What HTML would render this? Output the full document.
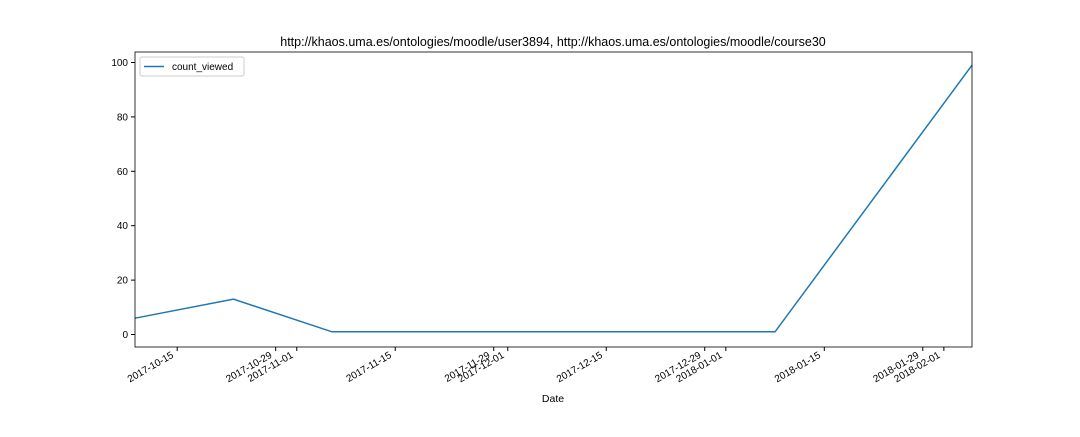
<!DOCTYPE html>
<html><head><meta charset="utf-8"><style>
body{margin:0;background:#fff;}
svg text{font-family:"Liberation Sans","DejaVu Sans",sans-serif;}
</style></head><body>
<svg id="chart" width="1080" height="432" xmlns="http://www.w3.org/2000/svg">
<rect width="1080" height="432" fill="#fff"/>
<text x="553" y="46" font-size="12.5" text-anchor="middle" fill="#000">http://khaos.uma.es/ontologies/moodle/user3894, http://khaos.uma.es/ontologies/moodle/course30</text>
<g id="plot"></g>
<text x="553" y="402" font-size="10.5" text-anchor="middle">Date</text>
<g>
<rect x="140" y="57" width="104" height="19" rx="2" fill="#fff" stroke="#ccc"/>
<line x1="144" y1="66.5" x2="164" y2="66.5" stroke="#1f77b4" stroke-width="1.5"/>
<text x="172" y="70" font-size="10">count_viewed</text>
</g>
</svg>
<script>
const dates=["2017-10-09","2017-10-23","2017-11-06","2018-01-08","2018-02-05"];
const values=[6,13,1,1,99];
const xTicks=["2017-10-15","2017-10-29","2017-11-01","2017-11-15","2017-11-29","2017-12-01","2017-12-15","2017-12-29","2018-01-01","2018-01-15","2018-01-29","2018-02-01"];
const yTicks=[0,20,40,60,80,100];
const L=135,R=972,T=52,B=347;
const d0=Date.parse(dates[0]),d1=Date.parse(dates[dates.length-1]);
function xs(d){return L+(Date.parse(d)-d0)/(d1-d0)*(R-L);}
function ys(v){return 334.5-v*2.72;}
const NS="http://www.w3.org/2000/svg";
const g=document.getElementById('plot');
function mk(t,a){const e=document.createElementNS(NS,t);for(const k in a)e.setAttribute(k,a[k]);g.appendChild(e);return e;}
yTicks.forEach(v=>{
 const y=ys(v);
 const t=mk('line',{x1:L-4,x2:L,y1:y,y2:y,stroke:'#000'});
 
 
 const tx=mk('text',{x:L-7,y:y+3.5,'font-size':10,'text-anchor':'end'});tx.textContent=v;
 
 
});
xTicks.forEach(d=>{
 const x=xs(d);
 const t=mk('line',{x1:x,x2:x,y1:B,y2:B+4,stroke:'#000'});
 
 
 const ax=x-3,ay=B+10;
 const tx=mk('text',{x:ax,y:ay,'font-size':10,'text-anchor':'end',transform:`rotate(-30 ${ax} ${ay})`});tx.textContent=d;
 
 
});
const p=mk('polyline',{points:dates.map((d,i)=>xs(d)+','+ys(values[i])).join(' '),fill:'none',stroke:'#1f77b4','stroke-width':1.5});


const fr=mk('rect',{x:L,y:T,width:R-L,height:B-T,fill:'none',stroke:'#000','stroke-width':0.8});


</script>
</body></html>
